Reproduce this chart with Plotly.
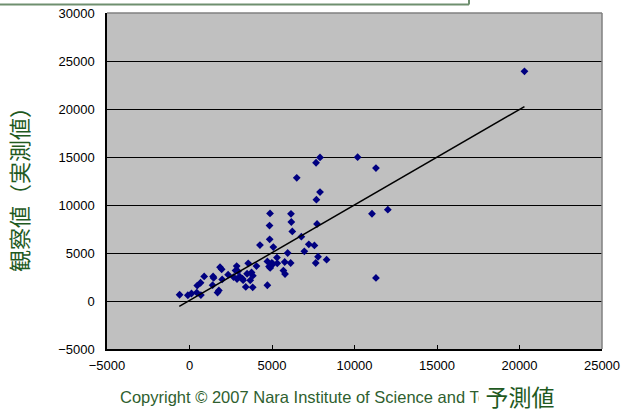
import plotly.graph_objects as go

# predicted (x) and observed (y) values
pred = [-600, -100, 120, 440, 690, 470, 670, 890, 1400, 1430, 1460, 1700, 1780, 1850, 1950,
        1980, 2340, 2670, 2860, 2790, 2940, 2880, 3050, 3210, 3250, 3410, 3490, 3560, 3680,
        3760, 3840, 3830, 4060, 4270, 4720, 4880, 4850, 4860, 5080, 4720, 4820, 4890, 4990,
        5060, 5300, 5320, 5770, 5690, 5790, 5950, 6130, 6150, 6170, 6230, 6500, 6780, 6960,
        7230, 7570, 7790, 8310, 7650, 7910, 7670, 10190, 11300, 7910, 7690, 7730, 11060,
        12020, 11300, 20300]
obs = [650, 600, 780, 880, 620, 1610, 1900, 2560, 1650, 2560, 2400, 880, 1100, 3520, 3300,
       2250, 2740, 2490, 3640, 3170, 3100, 2290, 2530, 2320, 2170, 1470, 2840, 3920, 2150,
       2980, 2640, 1420, 3640, 5830, 1640, 9120, 7860, 6420, 5620, 4120, 3590, 3450, 3980,
       3850, 4520, 3920, 4060, 3170, 2810, 5000, 3960, 9080, 8230, 7250, 12830, 6700, 5170,
       5900, 5790, 4610, 4300, 3960, 14960, 14400, 14980, 13850, 11350, 10550, 8020, 9090,
       9510, 2400, 23920]

# linear trend line end points
trend_x = [-620, 20300]
trend_y = [-560, 20250]

x_ticks = [-5000, 0, 5000, 10000, 15000, 20000, 25000]
y_ticks = [-5000, 0, 5000, 10000, 15000, 20000, 25000, 30000]

green = "#1f5a1f"

fig = go.Figure()
fig.add_trace(go.Scatter(x=pred, y=obs, mode="markers",
                         marker=dict(symbol="diamond", size=6, color="#000080"),
                         showlegend=False))
fig.add_trace(go.Scatter(x=trend_x, y=trend_y, mode="lines",
                         line=dict(color="black", width=1.5), showlegend=False))

tickfont = dict(family="Liberation Sans, Arial, sans-serif", size=13, color="black")

fig.update_layout(
    width=622, height=412,
    margin=dict(l=107, r=20, t=13, b=63, autoexpand=False),
    paper_bgcolor="white", plot_bgcolor="#c0c0c0",
    xaxis=dict(range=[-5000, 25000], tickvals=x_ticks, tickformat="d", automargin=False,
               showgrid=False, zeroline=False, showline=True, linecolor="black",
               linewidth=1.5, ticks="inside", ticklen=4, tickcolor="black",
               tickfont=tickfont, ticklabelstandoff=4),
    yaxis=dict(range=[-5000, 30000], tickvals=y_ticks, tickformat="d", automargin=False,
               showgrid=True, gridcolor="black", gridwidth=1, zeroline=False,
               showline=True, linecolor="black", linewidth=1.5, ticks="inside",
               ticklen=4, tickcolor="black", tickfont=tickfont, ticklabelstandoff=8),
    font=dict(family="Liberation Sans, Arial, sans-serif"),
)

# gray top and right border of plot area
fig.add_shape(type="line", xref="paper", yref="paper", x0=0, x1=1, y0=1, y1=1,
              line=dict(color="#808080", width=1.5))
fig.add_shape(type="line", xref="paper", yref="paper", x0=1, x1=1, y0=0, y1=1,
              line=dict(color="#808080", width=1.5))

# box at top left (partially visible): bottom edge and right edge
box_bottom = (349 - 4.5) / 336
fig.add_shape(type="line", xref="paper", yref="paper",
              x0=-0.3, x1=(469 - 107) / 495, y0=box_bottom, y1=box_bottom,
              line=dict(color="#6f8f6f", width=2))
fig.add_shape(type="line", xref="paper", yref="paper",
              x0=(469 - 107) / 495, x1=(469 - 107) / 495, y0=box_bottom, y1=1.1,
              line=dict(color="#6f8f6f", width=2))

# y axis title
fig.add_annotation(text="観察値（実測値）", xref="paper", yref="paper",
                   x=(18 - 107) / 495, y=(349 - 184) / 336, textangle=-90, showarrow=False,
                   font=dict(family="Noto Sans CJK JP", size=22, color=green),
                   xanchor="center", yanchor="middle")

# copyright
fig.add_annotation(text="Copyright © 2007 Nara Institute of Science and Technology",
                   xref="paper", yref="paper", x=(118 - 107) / 495, y=-(397 - 349) / 336,
                   xanchor="left", yanchor="middle", showarrow=False,
                   font=dict(family="Liberation Sans, Arial, sans-serif", size=16.5, color="#2f5f2f"))

# x axis title (covers end of copyright)
fig.add_annotation(text="予測値", xref="paper", yref="paper",
                   x=(520 - 107) / 495, y=-(396 - 349) / 336,
                   xanchor="center", yanchor="middle", showarrow=False,
                   bgcolor="white", borderpad=1, width=80,
                   font=dict(family="Noto Sans CJK JP", size=23, color=green))

fig.write_html("out.html", config={"displayModeBar": False},
               post_script="document.body.style.margin='0px';document.body.style.overflow='hidden';")
